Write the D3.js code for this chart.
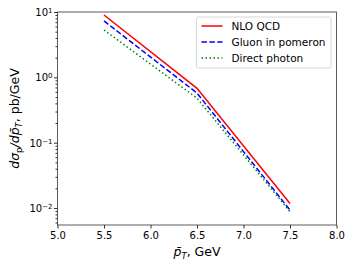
<!DOCTYPE html>
<html>
<head>
<meta charset="utf-8">
<script src="https://cdn.jsdelivr.net/npm/d3@7"></script>
<style>
body { margin: 0; background: #fff; }
text { font-family: "DejaVu Sans", sans-serif; }
</style>
</head>
<body>
<div class="canvas"></div>
<script>
// data
var pT = [5.5, 6.5, 7.5]
var nloQCD = [9.0, 0.68, 0.0117]
var gluonPomeron = [7.3, 0.575, 0.0093]
var directPhoton = [5.3, 0.48, 0.0088]
var xTicks = [5.0, 5.5, 6.0, 6.5, 7.0, 7.5, 8.0]
var yTicks = [1e1, 1e0, 1e-1, 1e-2]
var seriesNames = ["NLO QCD", "Gluon in pomeron", "Direct photon"]

var W = 354, H = 266
var m = {left: 57.5, right: 336.5, top: 12, bottom: 225}

var svg = d3.select(".canvas").append("svg").attr("width", W).attr("height", H)

var x = d3.scaleLinear().domain([5.0, 8.0]).range([m.left, m.right])
var y = d3.scaleLog().domain([0.0055, 10]).range([m.bottom, m.top])

// minor ticks for log axis
var minor = []
for (var e = -3; e <= 0; e++) {
    for (var k = 2; k <= 9; k++) {
        var v = k * Math.pow(10, e)
        if (v >= 0.0055 && v <= 10) minor.push(v)
    }
}

var yAxisMinor = d3.axisLeft(y).tickValues(minor).tickSize(2).tickFormat("")
svg.append("g").attr("transform", "translate(" + m.left + ",0)").call(yAxisMinor)
    .call(g => g.select(".domain").remove())
    .selectAll("line").attr("stroke", "#333")

var yAxis = d3.axisLeft(y).tickValues(yTicks).tickSize(3.5).tickPadding(3).tickFormat("")
var gy = svg.append("g").attr("transform", "translate(" + m.left + ",0)").call(yAxis)
gy.select(".domain").remove()
gy.selectAll("line").attr("stroke", "#333")
gy.selectAll(".tick").append("text")
    .attr("x", -5).attr("dy", "0.35em").attr("fill", "#000")
    .attr("text-anchor", "end").attr("font-size", 10)
    .each(function(d) {
        var t = d3.select(this)
        var ex = Math.round(Math.log10(d))
        t.append("tspan").text("10")
        t.append("tspan").attr("dy", "-0.45em").attr("font-size", 7)
            .text(ex < 0 ? "\u2212" + (-ex) : ex)
    })

var xAxis = d3.axisBottom(x).tickValues(xTicks).tickSize(3.5).tickPadding(3)
    .tickFormat(d3.format(".1f"))
var gx = svg.append("g").attr("transform", "translate(0," + m.bottom + ")").call(xAxis)
gx.select(".domain").remove()
gx.selectAll("line").attr("stroke", "#333")
gx.selectAll("text").attr("font-size", 10).attr("fill", "#000")
    .attr("font-family", "DejaVu Sans, sans-serif")

// frame
svg.append("rect")
    .attr("x", m.left).attr("y", m.top)
    .attr("width", m.right - m.left).attr("height", m.bottom - m.top)
    .attr("fill", "none").attr("stroke", "#333").attr("stroke-width", 0.8)

var line = d3.line().x((d, i) => x(pT[i])).y(d => y(d))

var styles = [
    {data: nloQCD, color: "#ff0000", dash: null, w: 1.5},
    {data: gluonPomeron, color: "#0000ff", dash: "5.5,2.4", w: 1.5},
    {data: directPhoton, color: "#008000", dash: "1.5,2.5", w: 1.5}
]

styles.forEach(function(s) {
    svg.append("path").datum(s.data)
        .attr("d", line)
        .attr("fill", "none")
        .attr("stroke", s.color)
        .attr("stroke-width", s.w)
        .attr("stroke-dasharray", s.dash)
})

// legend
var lg = svg.append("g").attr("transform", "translate(196.5,17)")
lg.append("rect").attr("width", 134.5).attr("height", 51).attr("rx", 2)
    .attr("fill", "#fff").attr("fill-opacity", 0.8)
    .attr("stroke", "#ccc").attr("stroke-width", 0.8)

seriesNames.forEach(function(name, i) {
    var yy = 9 + i * 16
    lg.append("line")
        .attr("x1", 5).attr("x2", 26).attr("y1", yy).attr("y2", yy)
        .attr("stroke", styles[i].color).attr("stroke-width", 1.5)
        .attr("stroke-dasharray", styles[i].dash)
    lg.append("text").attr("x", 35).attr("y", yy).attr("dy", "0.35em")
        .attr("font-size", 10.5).text(name)
})

// axis labels
svg.append("text")
    .attr("x", (m.left + m.right) / 2).attr("y", 256)
    .attr("text-anchor", "middle").attr("font-size", 12.5)
    .call(t => {
        t.append("tspan").attr("font-style", "italic").text("p\u0304")
        t.append("tspan").attr("font-style", "italic").attr("font-size", 8.5).attr("dy", 2.5).text("T")
        t.append("tspan").attr("dy", -2.5).text(", GeV")
    })

svg.append("text")
    .attr("transform", "translate(19," + ((m.top + m.bottom) / 2) + ") rotate(-90)")
    .attr("text-anchor", "middle").attr("font-size", 12.5)
    .call(t => {
        t.append("tspan").attr("font-style", "italic").text("d\u03c3")
        t.append("tspan").attr("font-size", 8.5).attr("dy", 2.5).text("p")
        t.append("tspan").attr("font-style", "italic").attr("dy", -2.5).text("/dp\u0304")
        t.append("tspan").attr("font-style", "italic").attr("font-size", 8.5).attr("dy", 2.5).text("T")
        t.append("tspan").attr("dy", -2.5).text(", pb/GeV")
    })
</script>
</body>
</html>
